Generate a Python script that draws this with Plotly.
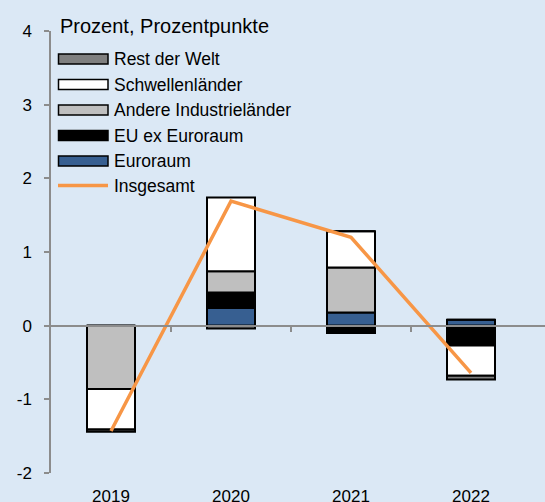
import plotly.graph_objects as go

years = ["2019", "2020", "2021", "2022"]
euroraum = [0.0, 0.24, 0.18, 0.08]
eu_ex_euroraum = [0.0, 0.21, -0.10, -0.27]
andere_industrie = [-0.86, 0.29, 0.61, 0.0]
schwellen = [-0.55, 1.00, 0.49, -0.41]
rest_welt = [-0.03, -0.04, 0.0, -0.05]
insgesamt = [-1.43, 1.69, 1.20, -0.64]

y_tickvals = [-2, -1, 0, 1, 2, 3, 4]
y_ticktext = ["-2", "-1", "0", "1", "2", "3", "4"]
y_title = "Prozent, Prozentpunkte"
y_range = [-2, 4]

BG = "#dbe8f5"
AXIS_GRAY = "#8c8c8c"
FONT = "Liberation Sans, Arial, sans-serif"

series = [
    ("Euroraum", euroraum, "#375f91"),
    ("EU ex Euroraum", eu_ex_euroraum, "#000000"),
    ("Andere Industrieländer", andere_industrie, "#bfbfbf"),
    ("Schwellenländer", schwellen, "#ffffff"),
    ("Rest der Welt", rest_welt, "#7f7f7f"),
]
line_name = "Insgesamt"
line_color = "#f79646"

fig = go.Figure()
for name, vals, col in series:
    fig.add_trace(go.Bar(
        x=years, y=vals, name=name, width=0.4,
        marker=dict(color=col, line=dict(color="#000000", width=2)),
        showlegend=False,
    ))
# category positions (index of each year) on an overlaid numeric axis
idx = list(range(len(years)))
fig.add_trace(go.Scatter(
    x=idx, y=insgesamt, name=line_name, mode="lines",
    line=dict(color=line_color, width=3.5),
    xaxis="x2", yaxis="y", showlegend=False,
))

# plot area in pixels
L, R, T, B = 51, 545, 31, 473
W, H = R - L, B - T


def px(x):
    return (x - L) / W


def py(y):
    return (B - y) / H


shapes = []
annotations = []
# manual legend (top to bottom)
legend_items = [series[4], series[3], series[2], series[1], series[0]]
row_y = [59, 84.5, 110, 135.5, 161]
for (name, vals, col), ry in zip(legend_items, row_y):
    shapes.append(dict(type="rect", xref="paper", yref="paper",
                       x0=px(58.5), x1=px(108), y0=py(ry + 5), y1=py(ry - 5),
                       fillcolor=col, line=dict(color="#000000", width=1.5)))
    annotations.append(dict(xref="paper", yref="paper", x=px(112), y=py(ry),
                            text=name, showarrow=False, xanchor="left",
                            yanchor="middle",
                            font=dict(size=17.5, color="#000000", family=FONT)))
shapes.append(dict(type="line", xref="paper", yref="paper",
                   x0=px(58), x1=px(108), y0=py(185.5), y1=py(185.5),
                   line=dict(color=line_color, width=3.5)))
annotations.append(dict(xref="paper", yref="paper", x=px(112), y=py(185.5),
                        text=line_name, showarrow=False, xanchor="left",
                        yanchor="middle",
                        font=dict(size=17.5, color="#000000", family=FONT)))
annotations.append(dict(xref="paper", yref="paper", x=px(58), y=py(26),
                        text=y_title, showarrow=False, xanchor="left",
                        yanchor="middle",
                        font=dict(size=20, color="#000000", family=FONT)))

xr = [-0.5, 3.5 + (W - 480) / 120]
zero_pos = (0 - y_range[0]) / (y_range[1] - y_range[0])
boundaries = [i + 0.5 for i in idx[:-1]]

fig.update_layout(
    width=545, height=502,
    margin=dict(l=L, r=545 - R, t=T, b=502 - B, pad=0, autoexpand=False),
    paper_bgcolor=BG, plot_bgcolor=BG,
    barmode="relative",
    font=dict(family=FONT, size=17, color="#000000"),
    showlegend=False,
    shapes=shapes, annotations=annotations,
    xaxis=dict(type="category", categoryarray=years, range=xr,
               automargin=False,
               showline=False, showgrid=False, zeroline=False, ticks="",
               tickfont=dict(size=17), ticklabelstandoff=11),
    xaxis2=dict(type="linear", range=xr, tickvals=boundaries,
                automargin=False,
                overlaying="x", anchor="free", position=zero_pos, side="bottom",
                showline=True, linecolor=AXIS_GRAY, linewidth=2,
                ticks="outside", ticklen=5, tickwidth=1.5, tickcolor=AXIS_GRAY,
                showticklabels=False,
                showgrid=False, zeroline=False),
    yaxis=dict(range=y_range, tickvals=y_tickvals, ticktext=y_ticktext,
               automargin=False,
               showgrid=False, zeroline=False,
               showline=True, linecolor=AXIS_GRAY, linewidth=1.5,
               ticks="outside", ticklen=5, tickwidth=1.5, tickcolor=AXIS_GRAY,
               tickfont=dict(size=17), ticklabelstandoff=9),
)

fig.write_html(
    "out.html",
    config={"displayModeBar": False},
    post_script=(
        "document.body.style.margin='0';"
        "document.body.style.overflow='hidden';"
        "document.body.style.background='" + BG + "';"
    ),
)
